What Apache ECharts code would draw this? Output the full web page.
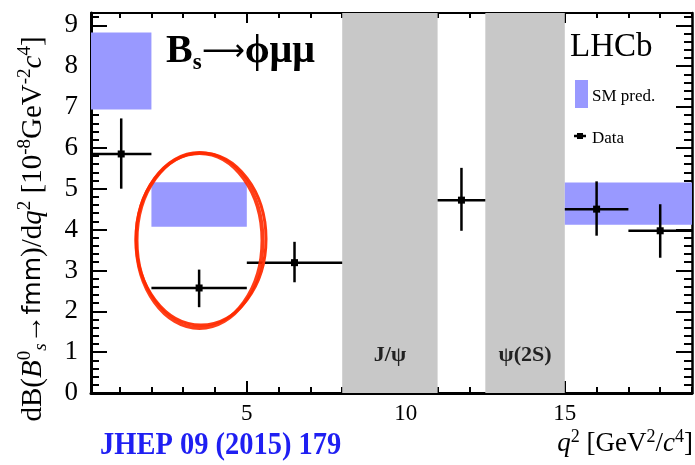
<!DOCTYPE html>
<html>
<head>
<meta charset="utf-8">
<script src="https://cdn.jsdelivr.net/npm/echarts@6/dist/echarts.min.js"></script>
<style>
  html, body { margin: 0; padding: 0; background: #fff; }
  #main { width: 695px; height: 465px; }
</style>
</head>
<body>
<div id="main"></div>
<script>
// q2 bins of the measured points
const binLo = [0.1, 2, 5, 11, 15, 17];
const binHi = [2, 5, 8, 12.5, 17, 19];
const dataX = [1.05, 3.5, 6.5, 11.75, 16, 18];
const dataY = [5.85, 2.57, 3.19, 4.72, 4.50, 3.97];
const errUp = [0.87, 0.45, 0.51, 0.79, 0.68, 0.65];
const errDn = [0.85, 0.47, 0.48, 0.75, 0.65, 0.66];

// SM prediction boxes
const smLo = [0.1, 2, 15];
const smHi = [2, 5, 19];
const smMin = [6.94, 4.07, 4.12];
const smMax = [8.82, 5.16, 5.15];

// charmonium vetoes
const vetoLo = [8, 12.5];
const vetoHi = [11, 15];
const vetoNames = ['J/ψ', 'ψ(2S)'];

// axis ticks
const xMajor = [5, 10, 15];
const yMajor = [0, 1, 2, 3, 4, 5, 6, 7, 8, 9];

const X_MIN = 0.1, X_MAX = 19, Y_MIN = 0, Y_MAX = 9.3;
const serif = "'Liberation Serif', 'Times New Roman', serif";

let xMinor = [];
for (let i = 1; i <= 19; i++) if (xMajor.indexOf(i) < 0) xMinor.push(i);
let yMinor = [];
for (let i = 1; i < 47; i++) if (i % 5 !== 0) yMinor.push(+(i * 0.2).toFixed(1));

var myChart = echarts.init(document.getElementById('main'));

// 坐标轴（上下左右 + 次刻度）
const xAxisBase = (pos, ticks, len, lw, label) => ({
    type: 'value', position: pos, min: X_MIN, max: X_MAX,
    axisLine: { show: lw > 0, onZero: false, lineStyle: { color: '#000', width: lw } },
    axisTick: { inside: true, length: len, customValues: ticks, lineStyle: { color: '#000', width: 2 } },
    axisLabel: label ? { customValues: ticks, color: '#000', fontFamily: serif, fontSize: 23, margin: 9 } : { show: false },
    splitLine: { show: false }
});
const yAxisBase = (pos, ticks, len, lw, label) => ({
    type: 'value', position: pos, min: Y_MIN, max: Y_MAX,
    axisLine: { show: lw > 0, onZero: false, lineStyle: { color: '#000', width: lw } },
    axisTick: { inside: true, length: len, customValues: ticks, lineStyle: { color: '#000', width: 2 } },
    axisLabel: label ? { customValues: ticks, color: '#000', fontFamily: serif, fontSize: 27, margin: 13 } : { show: false },
    splitLine: { show: false }
});

const rectItem = (api, x0, x1, y0, y1, style) => {
    const p0 = api.coord([x0, y1]);
    const p1 = api.coord([x1, y0]);
    return {
        type: 'rect',
        shape: echarts.graphic.clipRectByRect(
            { x: p0[0], y: p0[1], width: p1[0] - p0[0], height: p1[1] - p0[1] },
            { x: api.coord([X_MIN, 0])[0], y: api.coord([0, Y_MAX])[1],
              width: api.size([X_MAX - X_MIN, 0])[0], height: api.size([0, Y_MAX])[1] }
        ),
        style: style
    };
};

var option = {
    animation: false,
    grid: { left: 91, right: 3, top: 13, bottom: 72 },
    xAxis: [
        xAxisBase('bottom', xMajor, 12, 3, true),
        xAxisBase('bottom', xMinor, 6, 0, false),
        xAxisBase('top', xMajor, 10, 2, false),
        xAxisBase('top', xMinor, 5, 0, false)
    ],
    yAxis: [
        yAxisBase('left', yMajor, 16, 3, true),
        yAxisBase('left', yMinor, 8, 0, false),
        yAxisBase('right', yMajor, 16, 2.5, false),
        yAxisBase('right', yMinor, 8, 0, false)
    ],
    series: [
        {
            // 灰色区域
            type: 'custom',
            z: 1,
            data: vetoLo.map((v, i) => [v, vetoHi[i]]),
            renderItem: (params, api) => {
                const x0 = api.value(0), x1 = api.value(1);
                const c = api.coord([(x0 + x1) / 2, 0]);
                return {
                    type: 'group',
                    children: [
                        rectItem(api, x0, x1, Y_MIN, Y_MAX, { fill: '#c8c8c8' }),
                        {
                            type: 'text',
                            x: c[0], y: c[1] - 38,
                            style: {
                                text: vetoNames[params.dataIndex],
                                fontFamily: serif, fontWeight: 'bold', fontSize: 22,
                                fill: '#222', align: 'center', verticalAlign: 'middle'
                            }
                        }
                    ]
                };
            }
        },
        {
            // SM 预测
            type: 'custom',
            z: 2,
            data: smLo.map((v, i) => [v, smHi[i], smMin[i], smMax[i]]),
            renderItem: (params, api) =>
                rectItem(api, api.value(0), api.value(1), api.value(2), api.value(3), { fill: '#9999ff' })
        },
        {
            // 数据点
            type: 'custom',
            z: 3,
            data: dataX.map((v, i) => [v, dataY[i], binLo[i], binHi[i], dataY[i] - errDn[i], dataY[i] + errUp[i]]),
            renderItem: (params, api) => {
                const c = api.coord([api.value(0), api.value(1)]);
                const l = api.coord([api.value(2), api.value(1)]);
                const r = api.coord([api.value(3), api.value(1)]);
                const lo = api.coord([api.value(0), api.value(4)]);
                const hi = api.coord([api.value(0), api.value(5)]);
                const ls = { stroke: '#000', lineWidth: 2.5 };
                return {
                    type: 'group',
                    children: [
                        { type: 'line', shape: { x1: l[0], y1: l[1], x2: r[0], y2: r[1] }, style: ls },
                        { type: 'line', shape: { x1: lo[0], y1: lo[1], x2: hi[0], y2: hi[1] }, style: ls },
                        { type: 'rect', shape: { x: c[0] - 3.5, y: c[1] - 3.5, width: 7, height: 7 }, style: { fill: '#000' } }
                    ]
                };
            }
        }
    ],
    graphic: [
        {
            type: 'text', left: 166, top: 32, z: 10,
            style: {
                text: '{b|B}{s|s}{a|⟶}{b|ϕμμ}',
                rich: {
                    b: { fontFamily: serif, fontWeight: 'bold', fontSize: 40, fill: '#000', lineHeight: 42 },
                    a: { fontFamily: "'DejaVu Sans', sans-serif", fontSize: 30, fill: '#000', lineHeight: 42 },
                    s: { fontFamily: serif, fontWeight: 'bold', fontSize: 23, fill: '#000', verticalAlign: 'bottom', lineHeight: 46 }
                }
            }
        },
        {
            type: 'text', left: 570, top: 31, z: 10,
            style: { text: 'LHCb', fontFamily: serif, fontSize: 33, fill: '#000' }
        },
        {
            type: 'rect', left: 575, top: 80, z: 10,
            shape: { width: 13, height: 28 }, style: { fill: '#9999ff' }
        },
        {
            type: 'text', left: 592, top: 88, z: 10,
            style: { text: 'SM pred.', fontFamily: serif, fontSize: 17, fill: '#000' }
        },
        {
            type: 'line', z: 10,
            shape: { x1: 574, y1: 136, x2: 586, y2: 136 }, style: { stroke: '#000', lineWidth: 2.5 }
        },
        {
            type: 'rect', left: 577, top: 133, z: 10,
            shape: { width: 6, height: 6 }, style: { fill: '#000' }
        },
        {
            type: 'text', left: 592, top: 130, z: 10,
            style: { text: 'Data', fontFamily: serif, fontSize: 17, fill: '#000' }
        },
        {
            // 红色椭圆
            type: 'ellipse', z: 20,
            shape: { cx: 201, cy: 239, rx: 65, ry: 86 },
            style: { fill: 'none', stroke: '#ff3810', lineWidth: 3 }
        },
        {
            type: 'ellipse', z: 20,
            shape: { cx: 199.5, cy: 240.5, rx: 63, ry: 87.5 },
            style: { fill: 'none', stroke: '#ff2a00', lineWidth: 4, opacity: 0.9 }
        },
        {
            type: 'text', z: 10,
            x: 33, y: 229, rotation: Math.PI / 2,
            style: {
                text: '{n|dB(}{i|B}{sup|0}{sub|s}{n|→}{f|fmm}{n|)/d}{i|q}{sup|2}{n| [10}{sup|-8}{n|GeV}{sup|-2}{i|c}{sup|4}{n|]}',
                align: 'center', verticalAlign: 'middle',
                rich: {
                    n: { fontFamily: serif, fontSize: 29, fill: '#000', lineHeight: 34 },
                    i: { fontFamily: serif, fontSize: 29, fontStyle: 'italic', fill: '#000', lineHeight: 34 },
                    f: { fontFamily: "'DejaVu Sans', sans-serif", fontSize: 25, fill: '#000', lineHeight: 34 },
                    sup: { fontFamily: serif, fontSize: 19, fill: '#000', verticalAlign: 'top', lineHeight: 34 },
                    sub: { fontFamily: serif, fontSize: 19, fontStyle: 'italic', fill: '#000', verticalAlign: 'bottom', lineHeight: 34 }
                }
            }
        },
        {
            type: 'text', z: 10,
            x: 693, y: 444,
            style: {
                text: '{i|q}{sup|2}{n| [GeV}{sup|2}{n|/}{i|c}{sup|4}{n|]}',
                align: 'right', verticalAlign: 'middle',
                rich: {
                    n: { fontFamily: serif, fontSize: 27, fill: '#000', lineHeight: 31 },
                    i: { fontFamily: serif, fontSize: 27, fontStyle: 'italic', fill: '#000', lineHeight: 31 },
                    sup: { fontFamily: serif, fontSize: 18, fill: '#000', verticalAlign: 'top', lineHeight: 31 }
                }
            }
        },
        {
            type: 'text', z: 10,
            x: 100, y: 446, scaleX: 0.89,
            style: {
                text: 'JHEP 09 (2015) 179',
                fontFamily: serif, fontWeight: 'bold', fontSize: 32, fill: '#1f1ff2',
                align: 'left', verticalAlign: 'middle'
            }
        }
    ]
};

myChart.setOption(option);
</script>
</body>
</html>
